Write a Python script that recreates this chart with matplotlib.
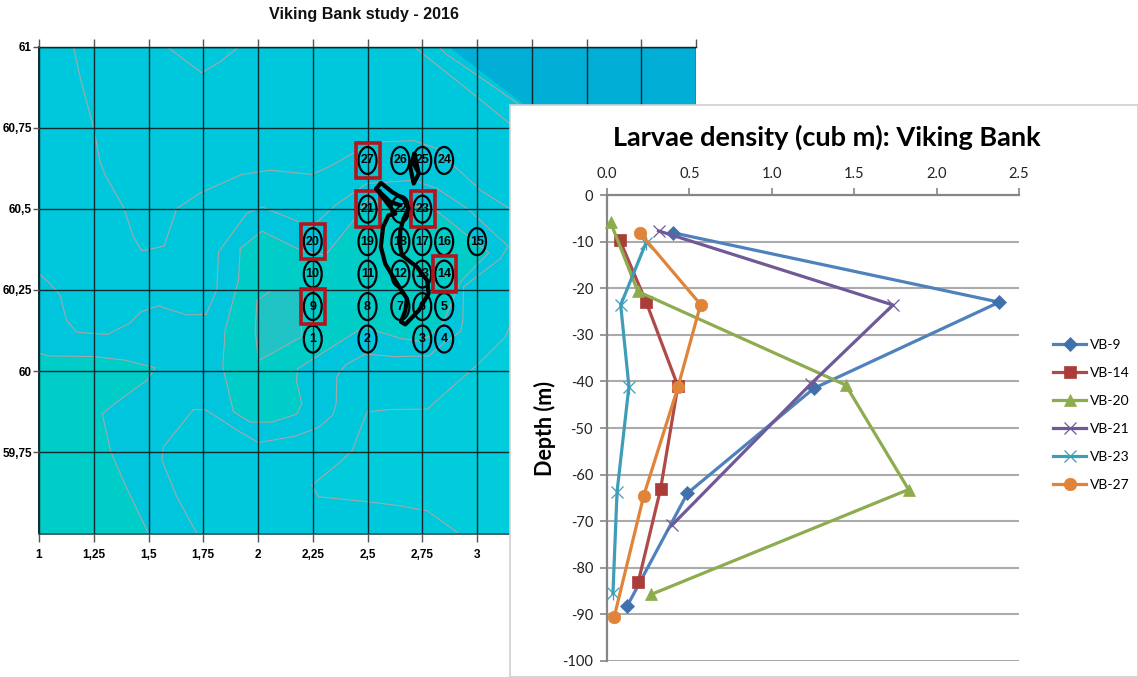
"""Viking Bank 2016: station map with larvae density profiles on top."""

import matplotlib.pyplot as plt
from matplotlib.lines import Line2D
from matplotlib.patches import Ellipse, Polygon, Rectangle

W, H = 1138, 677

# ---- map data (lon, lat) ----
STATION_IDS = [27, 26, 25, 24, 21, 22, 23, 20, 19, 18, 17, 16, 15,
               10, 11, 12, 13, 14, 9, 8, 7, 6, 5, 1, 2, 3, 4]
STATION_LON = [2.5, 2.65, 2.75, 2.85, 2.5, 2.65, 2.75, 2.25, 2.5, 2.65, 2.75, 2.85, 3.0,
               2.25, 2.5, 2.65, 2.75, 2.85, 2.25, 2.5, 2.65, 2.75, 2.85, 2.25, 2.5, 2.75, 2.85]
STATION_LAT = [60.649, 60.649, 60.649, 60.649, 60.499, 60.499, 60.499,
               60.399, 60.399, 60.399, 60.399, 60.399, 60.399,
               60.299, 60.299, 60.299, 60.299, 60.299,
               60.199, 60.199, 60.199, 60.199, 60.199,
               60.099, 60.099, 60.099, 60.099]
BOXED = [27, 21, 23, 20, 14, 9]

CONTOUR_NW = [(1.157, 61), (1.187, 60.907), (1.248, 60.753), (1.279, 60.645), (1.302, 60.604),
              (1.385, 60.506), (1.431, 60.414), (1.469, 60.371), (1.571, 60.385), (1.629, 60.501),
              (1.736, 60.549), (1.926, 60.606), (2.056, 60.619), (2.246, 60.606), (2.338, 60.634),
              (2.459, 60.681), (2.558, 60.706), (2.711, 60.710), (2.817, 60.686), (2.901, 60.629),
              (3.016, 60.557), (3.148, 60.501)]
CONTOUR_TOP = [(1.583, 61), (1.743, 60.919), (1.827, 60.953), (1.903, 60.994), (1.903, 61)]
CONTOUR_MID = [(1.0, 60.3), (1.05, 60.270), (1.096, 60.234), (1.126, 60.156), (1.172, 60.120),
               (1.312, 60.113), (1.413, 60.147), (1.465, 60.183), (1.545, 60.201), (1.675, 60.173),
               (1.763, 60.175), (1.812, 60.25), (1.820, 60.367), (1.949, 60.486), (2.018, 60.506),
               (2.246, 60.444), (2.353, 60.511), (2.498, 60.578), (2.711, 60.588), (2.817, 60.563),
               (2.955, 60.501), (3.142, 60.385), (3.107, 60.347), (2.939, 60.260), (2.935, 60.152),
               (2.924, 60.122), (2.848, 60.086), (2.779, 60.047), (2.619, 60.045), (2.490, 60.053),
               (2.399, 60.019), (2.360, 59.983), (2.357, 59.901), (2.342, 59.865), (2.277, 59.827),
               (2.170, 59.800), (2.002, 59.780), (1.903, 59.819), (1.759, 59.882), (1.705, 59.882),
               (1.568, 59.767), (1.561, 59.726), (1.629, 59.613), (1.721, 59.5)]
CONTOUR_GREEN = [(1.919, 60.378), (2.018, 60.431), (2.193, 60.373), (2.307, 60.357), (2.437, 60.465),
                 (2.498, 60.527), (2.802, 60.501), (3.054, 60.365), (2.924, 60.275), (2.840, 60.142),
                 (2.749, 60.091), (2.650, 60.101), (2.482, 60.136), (2.182, 60.008), (2.175, 59.973),
                 (2.200, 59.901), (2.178, 59.868), (2.063, 59.843), (1.964, 59.843), (1.888, 59.875),
                 (1.839, 60.014), (1.850, 60.127), (1.911, 60.281)]
CONTOUR_PATCH = [(2.063, 60.25), (1.995, 60.219), (1.987, 60.127), (2.002, 60.032), (2.200, 60.106),
                 (2.193, 60.25)]
CONTOUR_SW = [(1.0, 60.055), (1.043, 60.047), (1.248, 60.045), (1.393, 60.034), (1.530, 60.011),
              (1.495, 59.973), (1.347, 59.901), (1.289, 59.868), (1.328, 59.752), (1.401, 59.639),
              (1.5, 59.5), (1.0, 59.5)]
CONTOUR_SE1 = [(2.246, 59.649), (2.376, 59.721), (2.429, 59.755), (2.498, 59.875), (2.604, 59.882),
               (2.772, 59.883), (3.0, 60.019), (3.130, 60.106), (3.148, 60.137)]
CONTOUR_SE2 = [(2.246, 59.649), (2.277, 59.613), (2.498, 59.598), (2.650, 59.585), (2.772, 59.570),
               (2.917, 59.5)]
CONTOUR_NE1 = [(2.711, 61), (3.0, 60.845), (3.148, 60.763)]
CONTOUR_NE2 = [(2.825, 61), (2.856, 60.978), (3.0, 60.912), (3.198, 60.819)]
CONTOUR_NE3 = [(2.871, 61), (3.0, 60.932), (3.198, 60.830), (3.5, 60.65)]

PATCH_MAIN = [(2.540, 60.562), (2.561, 60.580), (2.612, 60.552), (2.665, 60.531), (2.688, 60.501),
              (2.665, 60.470), (2.650, 60.434), (2.647, 60.393), (2.657, 60.357), (2.726, 60.321),
              (2.772, 60.280), (2.779, 60.239), (2.734, 60.187), (2.673, 60.144), (2.653, 60.152),
              (2.673, 60.187), (2.680, 60.223), (2.635, 60.270), (2.581, 60.331), (2.561, 60.383),
              (2.571, 60.444), (2.596, 60.480), (2.627, 60.485)]
PATCH_BRANCH = [(2.540, 60.562), (2.604, 60.521), (2.650, 60.511)]
PATCH_SMALL = [(2.714, 60.670), (2.695, 60.629), (2.711, 60.578), (2.734, 60.608), (2.714, 60.670)]

LON_TICKS = [1, 1.25, 1.5, 1.75, 2, 2.25, 2.5, 2.75, 3, 3.25, 3.5, 3.75, 4]
LAT_TICKS = [59.75, 60, 60.25, 60.5, 60.75, 61]

# ---- profile data ----
NAMES = ["VB-9", "VB-14", "VB-20", "VB-21", "VB-23", "VB-27"]
VB9_X = [0.40, 2.38, 1.255, 0.488, 0.124]
VB9_Y = [-8.1, -23.0, -41.5, -64.0, -88.1]
VB14_X = [0.078, 0.238, 0.43, 0.325, 0.19]
VB14_Y = [-9.7, -23.0, -41.0, -63.1, -83.0]
VB20_X = [0.022, 0.187, 1.449, 1.83, 0.269]
VB20_Y = [-5.9, -20.7, -40.8, -63.2, -85.7]
VB21_X = [0.313, 1.735, 1.235, 0.393]
VB21_Y = [-7.7, -23.6, -40.6, -70.9]
VB23_X = [0.235, 0.083, 0.133, 0.061, 0.036]
VB23_Y = [-10.4, -23.6, -41.1, -63.7, -85.5]
VB27_X = [0.199, 0.568, 0.43, 0.223, 0.044]
VB27_Y = [-8.1, -23.5, -41.3, -64.5, -90.5]

SERIES = [(VB9_X, VB9_Y, "#4F81BD", "#3F72AC", "D", 7.0),
          (VB14_X, VB14_Y, "#B04A48", "#AA3C3A", "s", 8.0),
          (VB20_X, VB20_Y, "#8DAC4E", "#8DAC4E", "^", 9.0),
          (VB21_X, VB21_Y, "#6F5A97", "#6F5A97", "x", 8.0),
          (VB23_X, VB23_Y, "#3F9DB8", "#3F9DB8", "x", 8.0),
          (VB27_X, VB27_Y, "#E0843A", "#E0843A", "o", 9.0)]

SEA = "#00C8DC"
BAND = "#00C5DC"
EAST = "#00CCDC"
GREEN = "#00CCC8"
PATCH = "#20C4C4"
DEEP = "#00AED6"
ISO = "#A5A8A8"
GRID_DARK = "#0A2A2E"
RED = "#B5141C"
MAP_FONT = ["Liberation Sans"]
BODY = ["Lato", "DejaVu Sans"]

fig = plt.figure(figsize=(W / 100, H / 100), dpi=100, facecolor="white")


def px_axes(left, top, right, bottom, **kw):
    return fig.add_axes([left / W, 1 - bottom / H, (right - left) / W, (bottom - top) / H], **kw)


def iso(ax, pts, closed=False):
    xs = [p[0] for p in pts]
    ys = [p[1] for p in pts]
    if closed:
        xs, ys = xs + xs[:1], ys + ys[:1]
    ax.plot(xs, ys, color=ISO, lw=0.8, zorder=2)


# ---- map ----
ax = px_axes(39, 46.5, 696, 533.5, zorder=1)
ax.set_facecolor(SEA)
ax.set_xlim(1, 4)
ax.set_ylim(59.5, 61)

ax.add_patch(Polygon(CONTOUR_MID + [(1, 59.5)], fc=BAND, ec="none", zorder=1))
ax.add_patch(Polygon(CONTOUR_SE1 + [(4, 60.137), (4, 59.5)] + CONTOUR_SE2[::-1], fc=EAST, ec="none", zorder=1))
ax.add_patch(Polygon(CONTOUR_GREEN, fc=GREEN, ec="none", zorder=1))
ax.add_patch(Polygon(CONTOUR_PATCH, fc=PATCH, ec="none", zorder=1))
ax.add_patch(Polygon(CONTOUR_SW, fc=GREEN, ec="none", zorder=1))
ax.add_patch(Polygon(CONTOUR_NE3 + [(4, 60.65), (4, 61)], fc=DEEP, ec="none", zorder=1))
for line in (CONTOUR_NW, CONTOUR_TOP, CONTOUR_MID, CONTOUR_PATCH, CONTOUR_SW[:-1],
             CONTOUR_SE1, CONTOUR_SE2, CONTOUR_NE1, CONTOUR_NE2):
    iso(ax, line)
iso(ax, CONTOUR_GREEN, closed=True)

ax.set_xticks(LON_TICKS)
ax.set_yticks(LAT_TICKS)
ax.set_xticklabels([f"{v:g}".replace(".", ",") for v in LON_TICKS],
                   family=MAP_FONT, fontweight="bold", fontsize=8.5)
ax.set_yticklabels([f"{v:g}".replace(".", ",") for v in LAT_TICKS],
                   family=MAP_FONT, fontweight="bold", fontsize=8.5)
ax.tick_params(axis="x", length=6, width=1, color="#555555", pad=5, top=True)
ax.tick_params(axis="y", length=4, width=1, color="#555555", pad=1)
ax.grid(True, color=GRID_DARK, lw=1.0, zorder=3)
ax.set_axisbelow(False)
ax.spines["right"].set_visible(False)
ax.spines["top"].set_linewidth(1.0)
ax.spines["left"].set_color(GRID_DARK)
ax.spines["left"].set_linewidth(1.4)
ax.spines["bottom"].set_color("#3E6468")
ax.spines["bottom"].set_linewidth(1.4)

for sid, lon, lat in zip(STATION_IDS, STATION_LON, STATION_LAT):
    ax.add_patch(Ellipse((lon, lat), 0.082, 0.083, fc="none", ec="black", lw=1.6, zorder=4))
    ax.text(lon, lat, str(sid), ha="center", va="center", family=MAP_FONT,
            fontweight="bold", fontsize=9, color="black", zorder=6)
    if sid in BOXED:
        ax.add_patch(Rectangle((lon - 0.052, lat - 0.055), 0.108, 0.11, fc="none",
                               ec=RED, lw=2.6, zorder=5))

for pts in (PATCH_MAIN + PATCH_MAIN[:1], PATCH_BRANCH, PATCH_SMALL):
    ax.plot([p[0] for p in pts], [p[1] for p in pts], color="black", lw=3.0,
            solid_capstyle="round", solid_joinstyle="round", zorder=7)

fig.text(364 / W, 1 - 15 / H, "Viking Bank study - 2016", ha="center", va="center",
         family=MAP_FONT, fontweight="bold", fontsize=11.6, color="#111111")

# ---- white panel that sits over the map ----
fig.add_artist(Rectangle((509.5 / W, 0), (W - 509.5) / W, 1 - 104.5 / H, transform=fig.transFigure,
                         fc="white", ec="#CFCFCF", lw=1.2, zorder=2))

# ---- profiles ----
ch = px_axes(607, 195, 1019, 661, zorder=3)
ch.patch.set_alpha(0)
ch.set_xlim(0, 2.5)
ch.set_ylim(-100, 0)
ch.xaxis.tick_top()
ch.set_xticks([0, 0.5, 1, 1.5, 2, 2.5])
ch.set_xticklabels(["0.0", "0.5", "1.0", "1.5", "2.0", "2.5"], family=BODY, fontsize=10.5)
ch.set_yticks(range(-100, 1, 10))
ch.set_yticklabels([str(v) for v in range(-100, 1, 10)], family=BODY, fontsize=10.5)
ch.tick_params(axis="both", length=5, width=1.2, color="#868686", labelcolor="#222222", pad=5)
ch.grid(True, axis="y", color="#ABABAB", lw=1.5)
ch.set_axisbelow(True)
ch.spines["right"].set_visible(False)
ch.spines["bottom"].set_visible(False)
ch.spines["left"].set_color("#868686")
ch.spines["left"].set_linewidth(1.6)
ch.spines["top"].set_color("#868686")
ch.spines["top"].set_linewidth(1.6)

handles = []
for name, (xs, ys, line_c, mark_c, marker, size) in zip(NAMES, SERIES):
    kw = dict(color=line_c, lw=2.3, marker=marker, markersize=size, markerfacecolor=mark_c,
              markeredgecolor=mark_c, markeredgewidth=0.9 if marker == "x" else 0.5)
    ch.plot(xs, ys, clip_on=False, zorder=3, **kw)
    if name == "VB-23":
        # the asterisk marker is an x with an upright stroke through it
        ch.plot(xs, ys, ls="none", marker="|", markersize=size + 2, markeredgecolor=mark_c,
                markeredgewidth=0.9, clip_on=False, zorder=3)
    handles.append(Line2D([], [], label=name, **kw))

ch.legend(handles=handles, loc="upper left", bbox_to_anchor=(1.0825, 0.691),
          bbox_transform=ch.transAxes, frameon=False, handlelength=2.4, handletextpad=0.25,
          labelspacing=1.15, borderpad=0, borderaxespad=0,
          prop={"family": BODY, "size": 10})

fig.text(545 / W, 1 - 428 / H, "Depth (m)", rotation=90, ha="center", va="center",
         family=BODY, fontweight="bold", fontsize=15.5, color="black", zorder=4)
fig.text(827 / W, 1 - 137 / H, "Larvae density (cub m): Viking Bank", ha="center", va="center",
         family=BODY, fontweight="bold", fontsize=19.5, color="black", zorder=4)

fig.savefig("out.png", dpi=100)
